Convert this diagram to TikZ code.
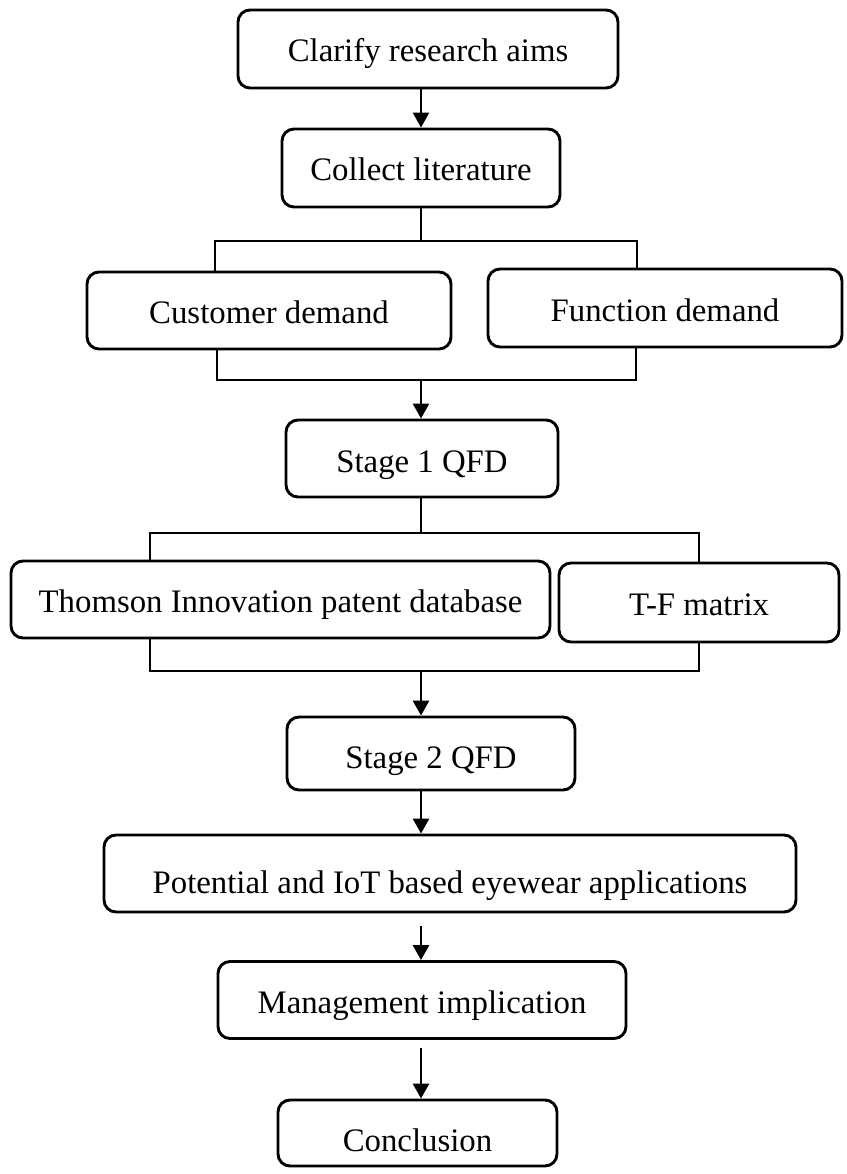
\documentclass[tikz,border=0pt]{standalone}
\usepackage{fontspec}
\setmainfont{Liberation Serif}
\usetikzlibrary{arrows.meta}
\begin{document}
\begin{tikzpicture}[x=1pt,y=-1pt,
  box/.style={draw, line width=2.9pt, rounded corners=12pt, inner sep=0pt, align=center,
    text height=26pt, text depth=0pt,
    font=\fontsize{32.8}{39}\selectfont},
  ln/.style={line width=2.9pt},
  arr/.style={line width=2.9pt, -{Triangle[length=15pt,width=16pt]}}]
\useasboundingbox (0,0) rectangle (846,1174);
\node[box, minimum width=380pt, minimum height=78pt] (clarify) at (428,49) {Clarify research aims};
\node[box, minimum width=278pt, minimum height=78pt] (collect) at (421,168) {Collect literature};
\node[box, minimum width=364pt, minimum height=77pt] (cust) at (269,310.5) {Customer demand};
\node[box, minimum width=354pt, minimum height=78pt] (func) at (665,308) {Function demand};
\node[box, minimum width=272pt, minimum height=77pt, text height=27pt] (s1) at (422,458.5) {Stage 1 QFD};
\node[box, minimum width=539pt, minimum height=77pt] (thom) at (280.5,599.5) {Thomson Innovation patent database};
\node[box, minimum width=280pt, minimum height=79pt] (tf) at (699,602.5) {T-F matrix};
\node[box, minimum width=288pt, minimum height=73pt, text height=29pt] (s2) at (431,753.5) {Stage 2 QFD};
\node[box, minimum width=692pt, minimum height=77pt, text height=39pt] (pot) at (450,873.5) {Potential and IoT based eyewear applications};
\node[box, minimum width=408pt, minimum height=77pt] (mgmt) at (422,1000) {Management implication};
\node[box, minimum width=279pt, minimum height=66pt, text height=36pt] (concl) at (417.5,1133) {Conclusion};

\coordinate (j1) at (421,241);
\coordinate (j1l) at (215,241);
\coordinate (j1r) at (637,241);
\coordinate (j2) at (421,380);
\coordinate (j2l) at (217,380);
\coordinate (j2r) at (636,380);
\coordinate (j3) at (421,533);
\coordinate (j3l) at (150,533);
\coordinate (j3r) at (699,533);
\coordinate (j4) at (421,671);
\coordinate (j4l) at (150,671);
\coordinate (j4r) at (699,671);
\coordinate (a5) at (421,790);
\coordinate (a6) at (421,926);
\coordinate (a7) at (421,1048);

\draw[arr] (collect.north |- clarify.south) -- (collect.north);
\draw[ln] (collect.south) -- (j1);
\draw[ln] (j1l |- cust.north) -- (j1l) -- (j1r) -- (j1r |- func.north);
\draw[ln] (j2l |- cust.south) -- (j2l) -- (j2r) -- (j2r |- func.south);
\draw[arr] (j2) -- (j2 |- s1.north);
\draw[ln] (j3 |- s1.south) -- (j3);
\draw[ln] (j3l |- thom.north) -- (j3l) -- (j3r) -- (j3r |- tf.north);
\draw[ln] (j4l |- thom.south) -- (j4l) -- (j4r) -- (j4r |- tf.south);
\draw[arr] (j4) -- (j4 |- s2.north);
\draw[arr] (a5) -- (a5 |- pot.north);
\draw[arr] (a6) -- (a6 |- mgmt.north);
\draw[arr] (a7) -- (a7 |- concl.north);
\end{tikzpicture}
\end{document}
